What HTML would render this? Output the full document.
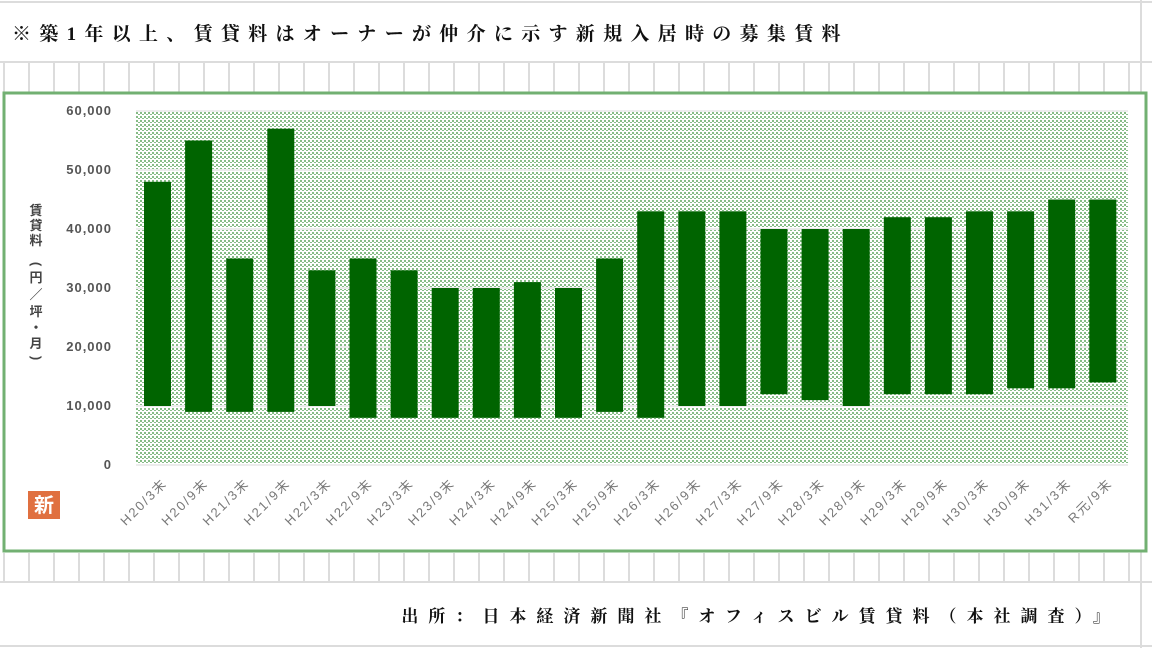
<!DOCTYPE html>
<html><head><meta charset="utf-8"><style>
body{margin:0;width:1152px;height:648px;overflow:hidden;background:#fff;font-family:"Liberation Sans","Noto Sans CJK JP",sans-serif}
</style></head><body>
<svg width="1152" height="648" xmlns="http://www.w3.org/2000/svg" style="position:absolute;left:0;top:0">
<defs>
<pattern id="p" width="4" height="4" patternUnits="userSpaceOnUse">
<rect width="4" height="4" fill="#fff"/>
<rect x="0" y="0" width="2" height="2" fill="#86bc86"/>
<rect x="2" y="2" width="2" height="1" fill="#86bc86"/>
</pattern>
</defs>
<g stroke="#dcdcdc" stroke-width="2">
<line x1="0" y1="2" x2="1152" y2="2"/>
<line x1="0" y1="62" x2="1152" y2="62"/>
<line x1="0" y1="582" x2="1152" y2="582"/>
<line x1="0" y1="646" x2="1152" y2="646"/>
<line x1="1141" y1="0" x2="1141" y2="648"/>
</g>
<g id="cells" stroke="#dcdcdc" stroke-width="2"></g>
<text x="12" y="40" font-size="19" font-weight="bold" fill="#111" letter-spacing="8.3" font-family="Liberation Serif, Noto Serif CJK SC, serif">※築1年以上、賃貸料はオーナーが仲介に示す新規入居時の募集賃料</text>
<rect x="4" y="93" width="1142" height="458" fill="#fff" stroke="#72b072" stroke-width="3"/>
<rect x="136" y="111" width="992" height="354" fill="url(#p)"/>
<g stroke="#ececec" stroke-width="2">
<line x1="136" y1="111" x2="1128" y2="111"/><line x1="136" y1="170" x2="1128" y2="170"/>
<line x1="136" y1="229" x2="1128" y2="229"/><line x1="136" y1="288" x2="1128" y2="288"/>
<line x1="136" y1="347" x2="1128" y2="347"/><line x1="136" y1="406" x2="1128" y2="406"/>
<line x1="136" y1="465" x2="1128" y2="465"/>
</g>
<g font-size="13" font-weight="bold" fill="#555" text-anchor="end" letter-spacing="1">
<text x="112" y="115">60,000</text><text x="112" y="174">50,000</text><text x="112" y="233">40,000</text>
<text x="112" y="292">30,000</text><text x="112" y="351">20,000</text><text x="112" y="410">10,000</text><text x="112" y="469">0</text>
</g>
<g font-size="13" font-weight="bold" fill="#444" text-anchor="middle">
<text x="36" y="215">賃</text><text x="36" y="230">貸</text><text x="36" y="245">料</text>
<text x="36" y="268" transform="rotate(90 36 264)">(</text><text x="36" y="282">円</text><text x="36" y="299">／</text><text x="36" y="316">坪</text><text x="36" y="332">・</text><text x="36" y="348">月</text><text x="36" y="362" transform="rotate(90 36 358)">)</text>
</g>
<rect x="28" y="491" width="32" height="28" fill="#e07040"/>
<text x="44" y="512" font-size="20" font-weight="bold" fill="#fff" text-anchor="middle">新</text>
<g id="bars" fill="#006400"></g>
<g id="labels" font-size="13" fill="#777" text-anchor="end" letter-spacing="2"></g>
<text x="1120" y="622" font-size="17" font-weight="bold" fill="#111" text-anchor="end" letter-spacing="10" font-family="Liberation Serif, Noto Serif CJK SC, serif">出所：日本経済新聞社『オフィスビル賃貸料（本社調査）』</text>
</svg>
<script>
var ns="http://www.w3.org/2000/svg";
var c=document.getElementById("cells");
function ln(x1,y1,x2,y2){var l=document.createElementNS(ns,"line");l.setAttribute("x1",x1);l.setAttribute("y1",y1);l.setAttribute("x2",x2);l.setAttribute("y2",y2);c.appendChild(l);}
for(var x=4;x<1141;x+=25){ln(x,62,x,92);ln(x,553,x,582);}
var d=[[48,10],[55,9],[35,9],[57,9],[33,10],[35,8],[33,8],[30,8],[30,8],[31,8],[30,8],[35,9],[43,8],[43,10],[43,10],[40,12],[40,11],[40,10],[42,12],[42,12],[43,12],[43,13],[45,13],[45,14]];
var L=["H20/3末","H20/9末","H21/3末","H21/9末","H22/3末","H22/9末","H23/3末","H23/9末","H24/3末","H24/9末","H25/3末","H25/9末","H26/3末","H26/9末","H27/3末","H27/9末","H28/3末","H28/9末","H29/3末","H29/9末","H30/3末","H30/9末","H31/3末","R元/9末"];
var b=document.getElementById("bars"),g=document.getElementById("labels");
for(var i=0;i<24;i++){var x=144+i*41.1;var r=document.createElementNS(ns,"rect");
var yt=465-d[i][0]*5.9,yb=465-d[i][1]*5.9;r.setAttribute("x",x);r.setAttribute("y",yt);r.setAttribute("width",27);r.setAttribute("height",yb-yt);b.appendChild(r);
var t=document.createElementNS(ns,"text");var cx=x+24,cy=484;t.setAttribute("x",cx);t.setAttribute("y",cy);t.setAttribute("transform","rotate(-45 "+cx+" "+cy+")");t.textContent=L[i];g.appendChild(t);}
</script>
</body></html>
